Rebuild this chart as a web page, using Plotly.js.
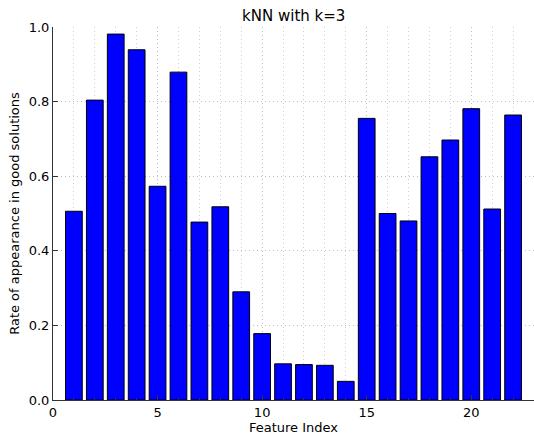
<!DOCTYPE html>
<html>
<head>
<meta charset="utf-8">
<script src="https://cdn.plot.ly/plotly-3.0.1.min.js"></script>
<style>html,body{margin:0;padding:0;background:#fff;}#chart{width:534px;height:440px;}</style>
</head>
<body>
<div id="chart"></div>
<script>
const featureIndex = [1,2,3,4,5,6,7,8,9,10,11,12,13,14,15,16,17,18,19,20,21,22];
const rates = [0.506,0.804,0.981,0.939,0.573,0.879,0.477,0.518,0.290,0.178,0.097,0.095,0.093,0.050,0.755,0.500,0.480,0.652,0.697,0.781,0.512,0.764];
const xTickVals = [0,5,10,15,20];
const yTickVals = [0.0,0.2,0.4,0.6,0.8,1.0];
const yTickText = ['0.0','0.2','0.4','0.6','0.8','1.0'];

const font = 'DejaVu Sans, sans-serif';
const trace = {
  type: 'bar',
  x: featureIndex,
  y: rates,
  width: 0.8,
  marker: {color: '#0000ff', line: {color: '#000000', width: 1}},
  hoverinfo: 'skip'
};
const gridDash = '1px,3px';
const layout = {
  width: 534, height: 440,
  margin: {l: 53, r: 0, t: 27, b: 40},
  paper_bgcolor: '#ffffff', plot_bgcolor: '#ffffff',
  showlegend: false,
  bargap: 0,
  title: {text: 'kNN with k=3', font: {family: font, size: 15, color: '#000'}, x: 0.55, xanchor: 'center', y: 1, yref: 'paper', yanchor: 'bottom', pad: {b: 6}},
  xaxis: {
    range: [0, 23], tickvals: xTickVals, ticktext: xTickVals.map(String),
    ticks: 'inside', ticklen: 5, tickcolor: '#333', tickwidth: 1,
    showline: true, linecolor: '#333', linewidth: 1,
    showgrid: true, gridcolor: '#bdbdbd', griddash: gridDash, gridwidth: 1,
    zeroline: false,
    minor: {dtick: 1, tick0: 0, ticks: 'inside', ticklen: 2, tickcolor: '#333', showgrid: true, gridcolor: '#cfcfcf', griddash: gridDash, gridwidth: 1},
    tickfont: {family: font, size: 13, color: '#000'},
    title: {text: 'Feature Index', font: {family: font, size: 13, color: '#000'}, standoff: 4}
  },
  xaxis2: {
    matches: 'x', overlaying: 'x', side: 'top', anchor: 'y',
    range: [0, 23], tickvals: xTickVals, showticklabels: false,
    ticks: 'inside', ticklen: 5, tickcolor: '#333',
    showline: true, linecolor: '#333', linewidth: 1, showgrid: false, zeroline: false,
    minor: {dtick: 1, tick0: 0, ticks: 'inside', ticklen: 2, tickcolor: '#333', showgrid: false}
  },
  yaxis: {
    range: [0, 1], tickvals: yTickVals, ticktext: yTickText,
    ticks: 'inside', ticklen: 5, tickcolor: '#333',
    showline: true, linecolor: '#333', linewidth: 1,
    showgrid: true, gridcolor: '#bdbdbd', griddash: gridDash, gridwidth: 1,
    zeroline: false,
    tickfont: {family: font, size: 13, color: '#000'},
    title: {text: 'Rate of appearance in good solutions', font: {family: font, size: 13, color: '#000'}, standoff: 6}
  }
};
Plotly.newPlot('chart', [trace], layout, {displayModeBar: false, staticPlot: true});
</script>
</body>
</html>
